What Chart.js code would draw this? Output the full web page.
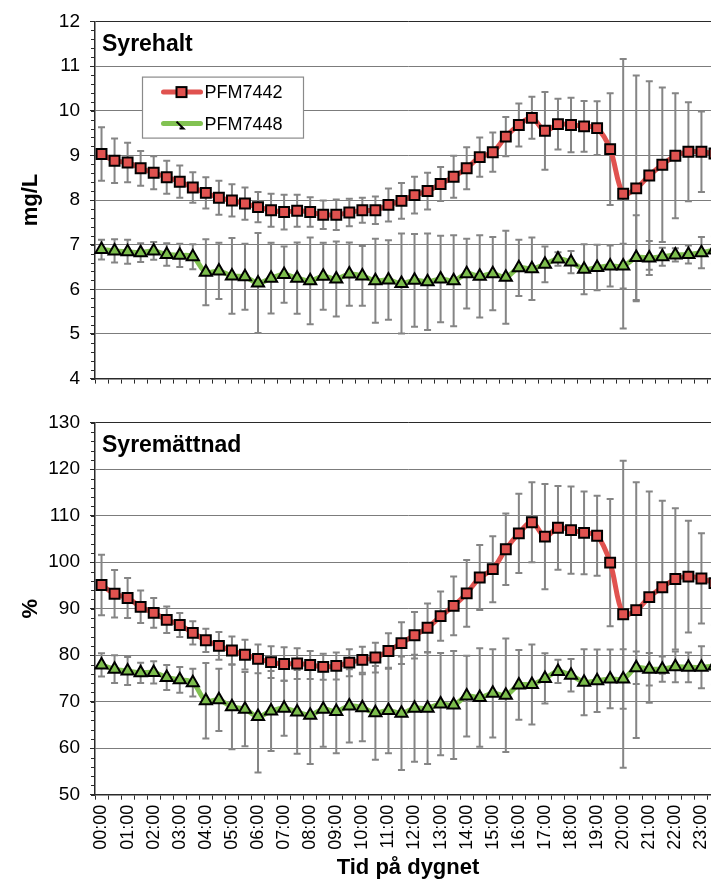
<!DOCTYPE html>
<html>
<head>
<meta charset="utf-8">
<script src="https://cdn.jsdelivr.net/npm/chart.js@4/dist/chart.umd.min.js"></script>
<style>
  html, body { margin: 0; padding: 0; background: #fff; overflow: hidden; }
  #wrap { position: relative; width: 711px; height: 881px; overflow: hidden; }
  #topChart { position: absolute; left: 0; top: 0; }
  #bottomChart { position: absolute; left: 0; top: 400px; }
</style>
</head>
<body>
<div id="wrap">
  <canvas id="topChart" width="760" height="400"></canvas>
  <canvas id="bottomChart" width="760" height="481"></canvas>
</div>
<script>
const times = [
  "00:00", "00:30", "01:00", "01:30", "02:00", "02:30", "03:00", "03:30",
  "04:00", "04:30", "05:00", "05:30", "06:00", "06:30", "07:00", "07:30",
  "08:00", "08:30", "09:00", "09:30", "10:00", "10:30", "11:00", "11:30",
  "12:00", "12:30", "13:00", "13:30", "14:00", "14:30", "15:00", "15:30",
  "16:00", "16:30", "17:00", "17:30", "18:00", "18:30", "19:00", "19:30",
  "20:00", "20:30", "21:00", "21:30", "22:00", "22:30", "23:00", "23:30",
];

const seriesNames = ["PFM7442", "PFM7448"];

// Syrehalt (mg/L), mean and standard deviation
const halt7442 = [9.03, 8.88, 8.84, 8.71, 8.61, 8.51, 8.41, 8.28, 8.16, 8.05, 7.99, 7.92, 7.84, 7.77, 7.73, 7.76,
  7.73, 7.67, 7.67, 7.72, 7.77, 7.77, 7.89, 7.98, 8.11, 8.20, 8.36, 8.52, 8.71, 8.96, 9.07, 9.42,
  9.68, 9.84, 9.55, 9.70, 9.68, 9.65, 9.61, 9.14, 8.14, 8.26, 8.55, 8.79, 8.99, 9.08, 9.08, 9.04];
const haltSd7442 = [0.60, 0.50, 0.44, 0.39, 0.37, 0.37, 0.36, 0.34, 0.35, 0.38, 0.36, 0.36, 0.34, 0.37, 0.39, 0.36,
  0.33, 0.32, 0.34, 0.31, 0.28, 0.31, 0.37, 0.40, 0.41, 0.41, 0.38, 0.47, 0.47, 0.44, 0.44, 0.44,
  0.48, 0.47, 0.87, 0.57, 0.61, 0.57, 0.60, 1.25, 3.02, 2.53, 2.11, 1.73, 1.40, 1.11, 0.90, 0.85];
const halt7448 = [6.89, 6.86, 6.84, 6.82, 6.86, 6.78, 6.76, 6.73, 6.38, 6.41, 6.30, 6.28, 6.14, 6.25, 6.33, 6.25,
  6.19, 6.29, 6.23, 6.34, 6.30, 6.19, 6.21, 6.13, 6.20, 6.17, 6.23, 6.19, 6.35, 6.29, 6.35, 6.27,
  6.48, 6.46, 6.56, 6.68, 6.61, 6.45, 6.49, 6.52, 6.52, 6.71, 6.70, 6.73, 6.77, 6.78, 6.82, 6.88];
const haltSd7448 = [0.22, 0.26, 0.27, 0.21, 0.20, 0.25, 0.26, 0.28, 0.74, 0.63, 0.85, 0.74, 1.12, 0.79, 0.63, 0.80,
  0.97, 0.75, 0.84, 0.71, 0.67, 0.94, 0.89, 1.12, 1.04, 1.08, 0.97, 1.02, 0.78, 0.92, 0.82, 1.04,
  0.63, 0.70, 0.40, 0.15, 0.25, 0.56, 0.51, 0.46, 0.50, 0.95, 0.38, 0.20, 0.15, 0.20, 0.35, 0.30];

// Syremättnad (%), mean and standard deviation
const matt7442 = [95.1, 93.2, 92.3, 90.4, 89.1, 87.6, 86.5, 84.8, 83.2, 82.0, 81.0, 80.1, 79.2, 78.5, 78.1, 78.2,
  77.9, 77.5, 77.7, 78.4, 79.0, 79.5, 80.9, 82.6, 84.3, 85.9, 88.4, 90.6, 93.3, 96.7, 98.5, 102.8,
  106.2, 108.6, 105.5, 107.4, 106.9, 106.3, 105.7, 99.9, 88.8, 89.7, 92.5, 94.6, 96.4, 96.9, 96.5, 95.5];
const mattSd7442 = [6.5, 5.1, 4.3, 3.5, 3.2, 2.85, 2.6, 2.5, 2.5, 3.0, 3.0, 3.2, 3.1, 3.4, 3.6, 3.3,
  3.0, 2.8, 2.9, 2.9, 2.8, 3.2, 3.8, 4.5, 5.0, 5.2, 5.3, 6.3, 7.2, 7.0, 7.1, 7.7,
  8.5, 8.6, 11.3, 9.0, 9.4, 8.9, 8.6, 13.7, 33.0, 27.5, 22.7, 18.6, 15.2, 12.0, 9.7, 9.0];
const matt7448 = [77.9, 77.0, 76.6, 76.2, 76.3, 75.2, 74.7, 74.1, 70.2, 70.4, 68.9, 68.4, 66.8, 68.0, 68.6, 67.8,
  67.1, 68.4, 67.9, 69.1, 68.7, 67.6, 68.1, 67.5, 68.6, 68.6, 69.5, 69.3, 71.2, 70.9, 71.8, 71.4,
  73.6, 73.7, 75.0, 76.5, 75.7, 74.2, 74.5, 74.9, 74.9, 77.3, 77.0, 77.0, 77.5, 77.4, 77.4, 77.7];
const mattSd7448 = [2.5, 3.0, 3.0, 2.2, 2.4, 2.7, 2.75, 3.0, 8.1, 6.7, 9.1, 8.0, 12.0, 8.6, 5.9, 9.0,
  10.5, 8.1, 9.0, 7.9, 7.2, 10.1, 9.2, 12.2, 11.5, 12.0, 11.0, 11.6, 8.7, 10.6, 9.5, 12.2,
  7.5, 8.6, 5.4, 2.5, 3.5, 7.1, 6.7, 6.3, 6.4, 3.5, 3.5, 2.7, 3.3, 3.2, 4.5, 4.0];

const FONT = "'Liberation Sans', Arial, sans-serif";
const RED = "#e0524f";
const GREEN = "#82c252";
const AXIS = "#2a2a2a";

const errorBarPlugin = {
  id: "errorBars",
  beforeDatasetsDraw(chart) {
    const ctx = chart.ctx;
    const xs = chart.scales.x;
    const ys = chart.scales.y;
    ctx.save();
    ctx.strokeStyle = "#858585";
    ctx.lineWidth = 2;
    chart.data.datasets.forEach((ds) => {
      ds.data.forEach((v, i) => {
        const e = ds.errorBars[i];
        const x = xs.getPixelForValue(i);
        const y1 = ys.getPixelForValue(v + e);
        const y2 = ys.getPixelForValue(v - e);
        ctx.beginPath();
        ctx.moveTo(x, y1); ctx.lineTo(x, y2);
        ctx.moveTo(x - 3.5, y1); ctx.lineTo(x + 3.5, y1);
        ctx.moveTo(x - 3.5, y2); ctx.lineTo(x + 3.5, y2);
        ctx.stroke();
      });
    });
    ctx.restore();
  },
};

const decorPlugin = {
  id: "decor",
  afterDraw(chart, args, opts) {
    const ctx = chart.ctx;
    const area = chart.chartArea;
    const ys = chart.scales.y;
    ctx.save();
    // minor ticks on the value axis
    ctx.strokeStyle = AXIS;
    ctx.lineWidth = 1;
    ctx.beginPath();
    for (let v = ys.min; v <= ys.max + 1e-9; v += opts.minor) {
      const y = Math.round(ys.getPixelForValue(v)) + 0.5;
      ctx.moveTo(area.left - 4, y);
      ctx.lineTo(area.left, y);
    }
    ctx.stroke();
    // panel title
    ctx.fillStyle = "#000";
    ctx.font = "bold 23px " + FONT;
    ctx.textBaseline = "alphabetic";
    ctx.fillText(opts.title, area.left + 7, area.top + 29.5);
    // legend box
    if (opts.legend) {
      const lx = area.left + 47.5;
      const ly = area.top + 55.7;
      ctx.fillStyle = "#fff";
      ctx.fillRect(lx, ly, 161, 61);
      ctx.strokeStyle = "#8a8a8a";
      ctx.lineWidth = 1.2;
      ctx.strokeRect(lx, ly, 161, 61);
      const rows = [
        { name: seriesNames[0], color: RED, y: ly + 15 },
        { name: seriesNames[1], color: GREEN, y: ly + 46.5 },
      ];
      rows.forEach((r, k) => {
        ctx.strokeStyle = r.color;
        ctx.lineWidth = 5;
        ctx.lineCap = "round";
        ctx.beginPath();
        ctx.moveTo(lx + 21, r.y);
        ctx.lineTo(lx + 58, r.y);
        ctx.stroke();
        const cx = lx + 39;
        if (k === 0) {
          ctx.fillStyle = RED;
          ctx.fillRect(cx - 5, r.y - 5, 10, 10);
          ctx.strokeStyle = "#000";
          ctx.lineWidth = 2;
          ctx.strokeRect(cx - 5, r.y - 5, 10, 10);
        } else {
          ctx.strokeStyle = "#000";
          ctx.lineWidth = 2;
          ctx.lineCap = "butt";
          ctx.beginPath();
          ctx.moveTo(cx - 5, r.y - 2);
          ctx.lineTo(cx + 2, r.y + 5);
          ctx.lineTo(cx - 2, r.y + 5);
          ctx.stroke();
        }
        ctx.fillStyle = "#000";
        ctx.font = "18px " + FONT;
        ctx.textBaseline = "middle";
        ctx.fillText(r.name, lx + 62, r.y + 1);
      });
    }
    ctx.restore();
  },
};

function makeDatasets(a, aSd, b, bSd) {
  return [
    {
      label: seriesNames[0], data: a, errorBars: aSd, order: 2,
      borderColor: RED, backgroundColor: RED, borderWidth: 5, tension: 0.35,
      pointStyle: "rect", pointRadius: 7, pointHoverRadius: 7,
      pointBackgroundColor: RED, pointBorderColor: "#000", pointBorderWidth: 2,
    },
    {
      label: seriesNames[1], data: b, errorBars: bSd, order: 1,
      borderColor: GREEN, backgroundColor: GREEN, borderWidth: 5, tension: 0.35,
      pointStyle: "triangle", pointRadius: 7, pointHoverRadius: 7,
      pointBackgroundColor: "#7cbd4c", pointBorderColor: "#000", pointBorderWidth: 2,
    },
  ];
}

function createPanel(canvas, cfg) {
  const xTicks = cfg.showLabels
    ? {
        autoSkip: false, maxRotation: 90, minRotation: 90, padding: 5,
        color: "#000", font: { family: FONT, size: 18 },
        callback: (v, i) => (i % 2 === 0 ? times[i] : ""),
      }
    : { display: false };
  return new Chart(canvas, {
    type: "line",
    data: { labels: times, datasets: cfg.datasets },
    options: {
      responsive: false,
      animation: false,
      layout: { padding: cfg.padding },
      plugins: {
        legend: { display: false },
        tooltip: { enabled: false },
        decor: { minor: cfg.minor, title: cfg.title, legend: cfg.legend },
      },
      scales: {
        x: {
          type: "category",
          offset: true,
          grid: { offset: true, drawOnChartArea: false, tickLength: 5, tickColor: AXIS },
          border: { color: AXIS, width: 1.5 },
          ticks: xTicks,
          title: {
            display: cfg.showLabels, text: "Tid på dygnet", color: "#000",
            font: { family: FONT, size: 22, weight: "bold" }, padding: { top: 4, bottom: 0 },
          },
          afterFit: (s) => { if (cfg.xHeight) s.height = cfg.xHeight; },
        },
        y: {
          min: cfg.min, max: cfg.max,
          ticks: { stepSize: cfg.step, padding: 10, color: "#000", font: { family: FONT, size: 19 } },
          grid: {
            color: (c) => (c.tick && c.tick.value === cfg.max ? AXIS : "#7c7c7c"),
            tickColor: AXIS, tickLength: 5, lineWidth: 1,
          },
          border: { color: AXIS, width: 1.5 },
          title: {
            display: true, text: cfg.yTitle, color: "#000",
            font: { family: FONT, size: 22, weight: "bold" }, padding: { top: 18, bottom: 0 },
          },
          afterFit: (s) => { s.width = 95; },
        },
      },
    },
    plugins: [errorBarPlugin, decorPlugin],
  });
}

createPanel(document.getElementById("topChart"), {
  datasets: makeDatasets(halt7442, haltSd7442, halt7448, haltSd7448),
  min: 4, max: 12, step: 1, minor: 0.2,
  title: "Syrehalt", yTitle: "mg/L", legend: true, showLabels: false,
  padding: { top: 19.3, right: 39, bottom: 4, left: 0 },
});

createPanel(document.getElementById("bottomChart"), {
  datasets: makeDatasets(matt7442, mattSd7442, matt7448, mattSd7448),
  min: 50, max: 130, step: 10, minor: 2,
  title: "Syremättnad", yTitle: "%", legend: false, showLabels: true,
  padding: { top: 22.7, right: 39, bottom: 0, left: 0 },
  xHeight: 86.3,
});
</script>
</body>
</html>
